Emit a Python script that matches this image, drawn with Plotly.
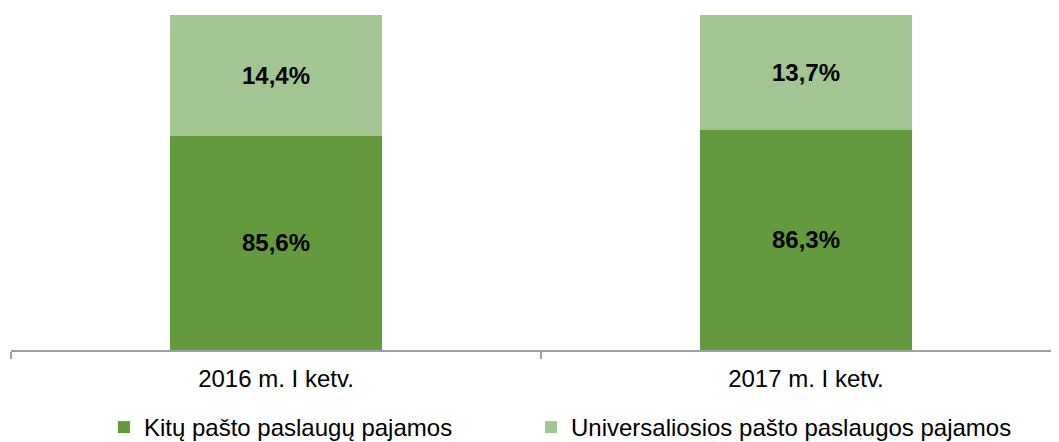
import plotly.graph_objects as go

categories = ["2016 m. I ketv.", "2017 m. I ketv."]
series_names = ["Kitų pašto paslaugų pajamos", "Universaliosios pašto paslaugos pajamos"]
kitu = [85.6, 86.3]
universal = [14.4, 13.7]
colors = ["#629A3D", "#A3C592"]
y_range = [60, 100]

def lbl(v):
    return [f"{x:.1f}%".replace(".", ",") for x in v]

label_font = dict(family="Liberation Sans, Arial", size=24, color="black", weight="bold")

fig = go.Figure()
fig.add_trace(go.Bar(
    x=categories, y=kitu, name=series_names[0], marker=dict(color=colors[0], line=dict(width=0)),
    width=0.4, textposition="none", hoverinfo="skip", legend="legend",
))
fig.add_trace(go.Bar(
    x=categories, y=universal, name=series_names[1], marker=dict(color=colors[1], line=dict(width=0)),
    width=0.4, text=lbl(universal), textposition="inside", insidetextanchor="middle",
    textfont=label_font, textangle=0, hoverinfo="skip", legend="legend2",
))

# labels for the lower segment, centred in its visible part
for cat, v, t in zip(categories, kitu, lbl(kitu)):
    fig.add_annotation(x=cat, y=(max(y_range[0], 0) + v) / 2, text=t, showarrow=False,
                       font=label_font, xanchor="center", yanchor="middle")

legend_common = dict(orientation="h", yref="container", y=0.0, yanchor="bottom",
                     xanchor="left", font=dict(size=24, color="#000000"),
                     itemwidth=30, bgcolor="rgba(0,0,0,0)")

fig.update_layout(
    barmode="stack",
    width=1059, height=442,
    margin=dict(l=3, r=0, t=7, b=100),
    paper_bgcolor="white", plot_bgcolor="white",
    font=dict(family="Liberation Sans, Arial", color="#000000"),
    showlegend=True,
    legend=dict(x=0.088, **legend_common),
    legend2=dict(x=0.4924, **legend_common),
)
fig.update_xaxes(
    type="category", range=[-0.5, 1.4925], showline=True, linecolor="#A0A0A0", linewidth=1.5,
    ticks="outside", tickson="boundaries", ticklen=7, tickcolor="#A0A0A0", tickwidth=1.5,
    tickfont=dict(size=24, color="#000000"), showgrid=False, ticklabelstandoff=6,
)
fig.update_yaxes(range=y_range, visible=False, showgrid=False)

fig.write_html("out.html")
